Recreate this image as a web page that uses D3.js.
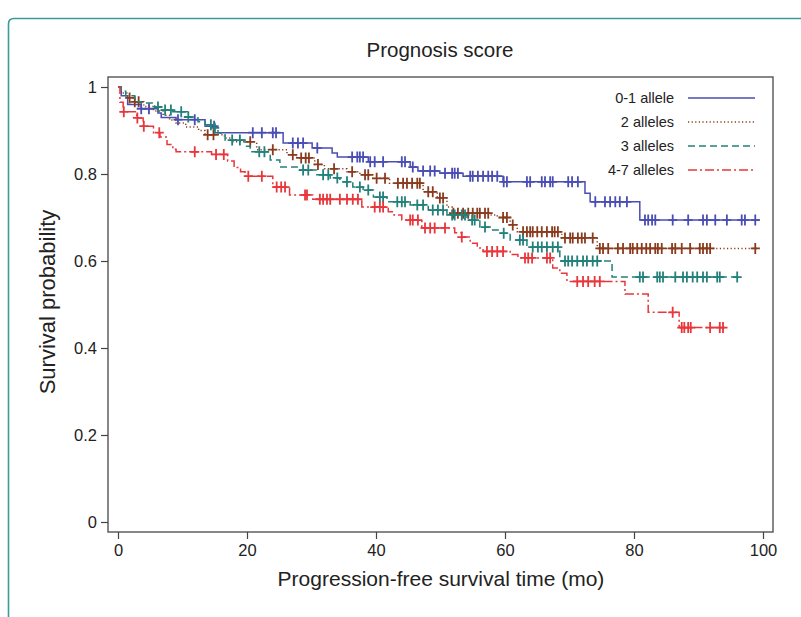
<!DOCTYPE html>
<html><head><meta charset="utf-8">
<script src="https://cdn.jsdelivr.net/npm/d3@7"></script>
<style>
html,body{margin:0;padding:0;background:#fff;}
text{font-family:"Liberation Sans",Arial,Helvetica,sans-serif;fill:#222;}
</style></head>
<body><svg id="chart" width="801" height="617"></svg>
<script>
const title = "Prognosis score";
const xLabel = "Progression-free survival time (mo)";
const yLabel = "Survival probability";
const xTicks = [0, 20, 40, 60, 80, 100];
const yTicks = [0, 0.2, 0.4, 0.6, 0.8, 1];
const yTickLabels = ["0", "0.2", "0.4", "0.6", "0.8", "1"];
const groups = ["0-1 allele", "2 alleles", "3 alleles", "4-7 alleles"];

// Step points [time, survival]
const steps01 = [[0,1],[0.5,0.98],[1.5,0.96],[3.6,0.95],[6.2,0.94],[6.7,0.93],[9,0.925],[13.5,0.91],[15,0.895],[25.6,0.871],[30.1,0.86],[33.2,0.848],[34,0.839],[38.8,0.828],[45.3,0.816],[46.5,0.807],[49.9,0.802],[53.5,0.795],[59.7,0.782],[72.4,0.756],[73.2,0.736],[80.9,0.694]];
const steps2 = [[0,1],[0.5,0.986],[1.5,0.975],[2.6,0.966],[4,0.955],[5.5,0.945],[7,0.935],[8,0.924],[9,0.917],[10.5,0.908],[12.5,0.9],[13.5,0.89],[16.5,0.883],[17.5,0.874],[21.5,0.856],[26.2,0.844],[27.7,0.837],[30.5,0.822],[32,0.812],[35.5,0.805],[37.5,0.798],[39.5,0.79],[42.1,0.779],[47.3,0.759],[49.5,0.745],[51,0.724],[51.8,0.71],[57.7,0.706],[58.8,0.7],[60.8,0.683],[61.9,0.667],[68.8,0.653],[74.3,0.629]];
const steps3 = [[0,1],[0.5,0.99],[1.2,0.98],[2.6,0.966],[3.6,0.963],[5.7,0.954],[6.7,0.947],[8.5,0.943],[10.8,0.931],[12.4,0.92],[13.5,0.913],[15,0.906],[15.5,0.894],[16.6,0.878],[19.7,0.864],[20.5,0.851],[23.6,0.832],[25.1,0.816],[28.2,0.809],[30.8,0.798],[32.9,0.791],[34.4,0.782],[36.4,0.77],[38,0.763],[39.6,0.747],[41.7,0.736],[45.3,0.729],[48.1,0.717],[51,0.706],[54.1,0.694],[56.1,0.678],[57.7,0.671],[59.2,0.664],[60.8,0.648],[63.4,0.632],[68.5,0.6],[76.6,0.563]];
const steps47 = [[0,1],[0.3,0.965],[0.8,0.943],[2.9,0.929],[3.9,0.91],[5.5,0.895],[6.5,0.885],[7.6,0.868],[8.5,0.857],[9,0.851],[14.5,0.845],[17,0.83],[18,0.815],[19,0.805],[19.7,0.795],[24,0.77],[26.6,0.752],[30.2,0.742],[37.8,0.724],[41.9,0.713],[42.8,0.706],[44,0.694],[47.1,0.676],[52.2,0.665],[53.3,0.655],[54.6,0.641],[55.7,0.63],[56.6,0.622],[60.8,0.615],[62,0.607],[67.4,0.584],[68.5,0.572],[69.6,0.553],[78.6,0.524],[82.2,0.482],[87,0.447]];
const endTimes = [99.5, 99.5, 96.4, 94.1];

// Censoring times
const censor01 = [3.6,4.8,9.3,11.9,14.9,20.9,22.3,24,24.5,27.1,27.9,28.7,30.9,36.3,37.1,37.5,38,39.1,39.8,41.1,44,44.5,45.7,47.3,48.4,49.1,50.7,51.8,52.2,52.7,54.6,55,55.8,56.6,57.4,58,58.8,59.8,60.3,63.4,63.9,65.7,66.2,67,67.4,69.8,70.4,71.3,74,75.5,76.3,77.1,77.8,78.9,81.7,82.2,82.8,83.3,86,88.4,90.7,91.3,92.6,94.4,96.7,97.2,98.8];
const censor2 = [1.8,2.6,3.2,13.9,14.8,20.5,24,27.1,28.4,29.1,29.6,31,33.5,36.3,38.3,38.8,40.1,41.4,43.4,44.2,44.8,45.6,46.4,46.8,48.1,48.8,49.9,50.4,52,52.7,53.5,54.3,55,55.7,56.1,56.9,57.4,59.7,60.3,61.2,62.8,63.4,63.9,64.3,65,65.7,66.5,67.3,67.7,68.2,69.3,70.1,70.5,71.3,71.9,72.4,73.6,74.7,75.2,76,77.5,78.3,79.4,79.8,80.5,81.2,81.9,82.5,83.3,83.7,84.3,85.9,86.4,87.4,88.7,90.2,90.7,91.3,91.8,98.8];
const censor3 = [6.2,7.3,8.2,9.8,10.9,14.4,15,17.7,18.9,21.9,22.7,28.7,29.5,31.8,32.6,34,35.5,37.5,38.8,40.6,41.1,43.3,44,44.5,46.4,47.3,48.8,49.6,50.4,51.8,52.2,53.3,53.8,54.9,55.3,56.9,59.8,62.3,62.8,64.3,65.1,65.7,66.5,67.4,68.2,69.3,69.8,70.4,71.2,72.1,72.7,73.6,74.3,80.9,81.4,83.6,84,84.5,86.4,87.6,88.2,89.1,89.8,90.7,91.3,92.9,93.3,96];
const censor47 = [0.9,3,4,6.4,11.9,15.2,16.4,20.2,22.3,24.6,25.3,25.9,29,29.3,31.3,31.8,32.4,32.9,34.4,35.5,36.4,37.2,39.8,40.6,41.1,45.3,45.7,46.5,47.6,48.4,49.1,50.7,53.3,57.2,58,58.8,59.7,63.1,63.6,64.2,66.5,67,71.2,72.1,72.9,73.9,74.7,86,87.4,87.8,88.4,88.8,91.8,93.3,93.8];

const colors = ["#4a4db3", "#8a3b1e", "#23807a", "#e8363b"];
const dashes = [null, "1.2,2.4", "7,4", "9,3,2,3"];

const allSteps = [steps01, steps2, steps3, steps47];
const allCensor = [censor01, censor2, censor3, censor47];

const svg = d3.select("#chart");

// outer frame
svg.append("path").attr("d", "M8.5,617 L8.5,24 Q8.5,18.5 14,18.5 L801,18.5")
  .attr("fill","none").attr("stroke","#3a9a9c").attr("stroke-width",1.6);

const x = d3.scaleLinear().domain([0,100]).range([118,763]);
const y = d3.scaleLinear().domain([0,1]).range([522,87]);

// box
svg.append("rect").attr("x",108).attr("y",77).attr("width",665).attr("height",455)
  .attr("fill","none").attr("stroke","#555").attr("stroke-width",1.4);

// y axis
const yAxis = d3.axisLeft(y).tickValues(yTicks).tickSize(7).tickPadding(4)
  .tickFormat((d,i)=>yTickLabels[i]);
const gy = svg.append("g").attr("transform","translate(108,0)").call(yAxis);
gy.select(".domain").remove();
gy.selectAll("line").attr("stroke","#444").attr("stroke-width",1.2);
gy.selectAll("text").attr("font-size",16.5).attr("fill","#222");

// x axis
const xAxis = d3.axisBottom(x).tickValues(xTicks).tickSize(7).tickPadding(5);
const gx = svg.append("g").attr("transform","translate(0,532)").call(xAxis);
gx.select(".domain").remove();
gx.selectAll("line").attr("stroke","#444").attr("stroke-width",1.2);
gx.selectAll("text").attr("font-size",16.5).attr("fill","#222");

// titles
svg.append("text").attr("x",440).attr("y",57).attr("text-anchor","middle")
  .attr("font-size",20.5).text(title);
svg.append("text").attr("x",441).attr("y",586).attr("text-anchor","middle")
  .attr("font-size",21).text(xLabel);
svg.append("text").attr("transform","translate(55,302) rotate(-90)").attr("text-anchor","middle")
  .attr("font-size",22).text(yLabel);

// curves
const line = d3.line().x(d=>x(d[0])).y(d=>y(d[1])).curve(d3.curveStepAfter);
const bis = d3.bisector(d=>d[0]).right;
function survAt(st, t){ const i = bis(st, t); return st[Math.max(0,i-1)][1]; }

[0,1,2,3].forEach(k=>{
  const st = allSteps[k];
  const pts = st.concat([[endTimes[k], st[st.length-1][1]]]);
  const g = svg.append("g");
  g.append("path").attr("d", line(pts)).attr("fill","none")
    .attr("stroke", colors[k]).attr("stroke-width",1.5)
    .attr("stroke-dasharray", dashes[k]);
  g.selectAll("path.c").data(allCensor[k]).enter().append("path").attr("class","c")
    .attr("d", t=>{ const cx = x(t), cy = y(survAt(st,t));
      return `M${cx-4.5},${cy}H${cx+4.5}M${cx},${cy-5.5}V${cy+5.5}`; })
    .attr("stroke", colors[k]).attr("stroke-width",1.8).attr("fill","none");
});

// legend
const legY = [98, 122, 146, 170];
groups.forEach((g,i)=>{
  svg.append("text").attr("x",674).attr("y",legY[i]).attr("dy","0.35em")
    .attr("text-anchor","end").attr("font-size",14.5).text(g);
  svg.append("line").attr("x1",688).attr("x2",755).attr("y1",legY[i]).attr("y2",legY[i])
    .attr("stroke",colors[i]).attr("stroke-width",1.5).attr("stroke-dasharray",dashes[i]);
});
</script></body></html>
